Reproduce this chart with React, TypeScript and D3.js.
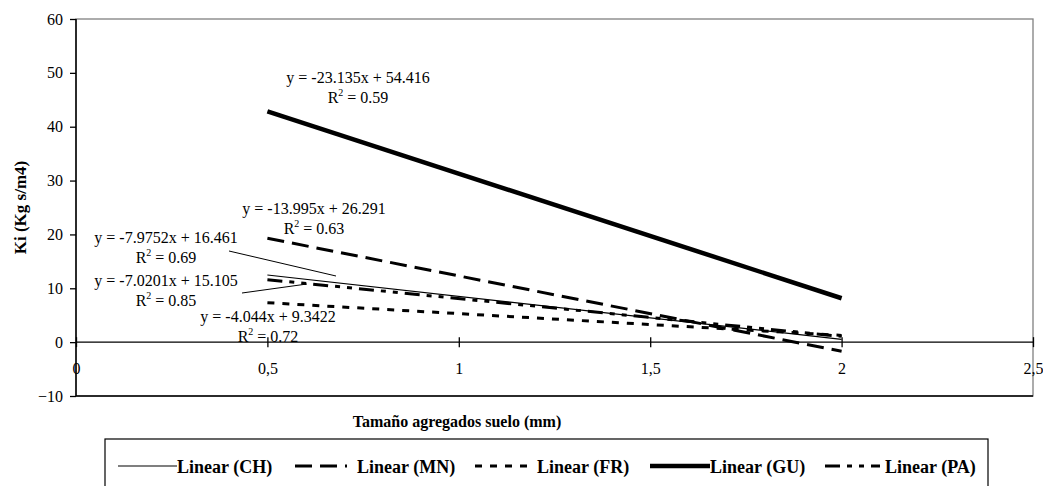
import React, { useEffect, useRef } from "react";
import * as d3 from "d3";

// trendlines, values at x = 0.5 and x = 2 (from the fitted equations)
const seriesNames = ["CH", "MN", "FR", "GU", "PA"];
const xEnds = [0.5, 2];
const chEnds = [12.47, 0.51];
const mnEnds = [19.29, -1.7];
const frEnds = [7.32, 1.25];
const guEnds = [42.85, 8.15];
const paEnds = [11.6, 1.07];
const equations = [
  "y = -7.9752x + 16.461",
  "y = -13.995x + 26.291",
  "y = -4.044x + 9.3422",
  "y = -23.135x + 54.416",
  "y = -7.0201x + 15.105",
];
const r2Values = ["0.69", "0.63", "0.72", "0.59", "0.85"];
const xTicks = [0, 0.5, 1, 1.5, 2, 2.5];
const yTicks = [-10, 0, 10, 20, 30, 40, 50, 60];

const FONT = '"Liberation Serif", "Times New Roman", Tinos, "DejaVu Serif", serif';

const App = () => {
  const chartRef = useRef<SVGSVGElement>(null);

  useEffect(() => {
    drawChart();
  }, []);

  const drawChart = () => {
    const width = 1043;
    const height = 486;
    const left = 76, right = 1033, top = 19, bottom = 396;

    const svg = d3.select(chartRef.current)
      .attr("width", width)
      .attr("height", height)
      .style("font-family", FONT);
    svg.selectAll("*").remove();

    const x = d3.scaleLinear().domain([0, 2.5]).range([left, right]);
    const y = d3.scaleLinear().domain([-10, 60]).range([bottom, top]);

    // plot area border
    svg.append("rect")
      .attr("x", left).attr("y", top)
      .attr("width", right - left).attr("height", bottom - top)
      .attr("fill", "white").attr("stroke", "#808080").attr("stroke-width", 1.3);
    svg.append("line")
      .attr("x1", left).attr("x2", right).attr("y1", bottom).attr("y2", bottom)
      .attr("stroke", "black").attr("stroke-width", 1.3);

    // y axis
    const yAxis = svg.append("g").attr("transform", `translate(${left},0)`)
      .call(d3.axisLeft(y).tickValues(yTicks).tickSize(6).tickPadding(7).tickFormat(d3.format("d")));
    yAxis.select(".domain").attr("stroke", "black").attr("stroke-width", 1.5).attr("d", `M0,${top}V${bottom}`);
    yAxis.selectAll(".tick line").attr("stroke-width", 1.3);
    yAxis.selectAll("text").style("font-family", FONT).attr("font-size", 16).attr("fill", "black");

    // x axis at y = 0 with crossing ticks
    const xAxis = svg.append("g").attr("transform", `translate(0,${y(0)})`)
      .call(d3.axisBottom(x).tickValues(xTicks).tickSize(5).tickPadding(15)
        .tickFormat((d) => String(d).replace(".", ",")));
    xAxis.select(".domain").attr("stroke-width", 1.3).attr("d", `M${left},0H${right}`);
    xAxis.selectAll(".tick line").attr("y1", -5).attr("stroke-width", 1.3);
    xAxis.selectAll("text").style("font-family", FONT).attr("font-size", 16).attr("fill", "black");

    // trendlines
    const styles = [
      { w: 1.2, dash: null },
      { w: 3, dash: "17,8" },
      { w: 3, dash: "7,8" },
      { w: 4.5, dash: null },
      { w: 3, dash: "15,7,5,7,5,7" },
    ];
    const ends = [chEnds, mnEnds, frEnds, guEnds, paEnds];
    const line = d3.line<[number, number]>().x((d) => x(d[0])).y((d) => y(d[1]));
    ends.forEach((e, i) => {
      svg.append("path")
        .datum(xEnds.map((xv, j) => [xv, e[j]] as [number, number]))
        .attr("d", line)
        .attr("fill", "none").attr("stroke", "black")
        .attr("stroke-width", styles[i].w)
        .attr("stroke-dasharray", styles[i].dash);
    });

    // equation labels (pixel positions, centred)
    const labelPos = [
      { cx: 166, cy: 237 },
      { cx: 314, cy: 208 },
      { cx: 268, cy: 316 },
      { cx: 358, cy: 77 },
      { cx: 166, cy: 280 },
    ];
    labelPos.forEach((p, i) => {
      svg.append("text")
        .attr("x", p.cx).attr("y", p.cy)
        .attr("text-anchor", "middle").attr("dominant-baseline", "central")
        .attr("font-size", 16)
        .text(equations[i]);
      const t = svg.append("text")
        .attr("x", p.cx).attr("y", p.cy + 20)
        .attr("text-anchor", "middle").attr("dominant-baseline", "central")
        .attr("font-size", 16);
      t.append("tspan").text("R");
      t.append("tspan").attr("font-size", 10).attr("dy", -5).text("2");
      t.append("tspan").attr("dy", 5).text(" = " + r2Values[i]);
    });

    // leader lines
    svg.append("line").attr("x1", 229).attr("y1", 251).attr("x2", 336).attr("y2", 276)
      .attr("stroke", "black").attr("stroke-width", 1);
    svg.append("line").attr("x1", 242).attr("y1", 293).attr("x2", 307).attr("y2", 284)
      .attr("stroke", "black").attr("stroke-width", 1);

    // axis titles
    svg.append("text")
      .attr("x", 457).attr("y", 421)
      .attr("text-anchor", "middle").attr("dominant-baseline", "central")
      .attr("font-size", 16).attr("font-weight", "bold")
      .text("Tamaño agregados suelo (mm)");
    svg.append("text")
      .attr("transform", `translate(20,${(top + bottom) / 2}) rotate(-90)`)
      .attr("text-anchor", "middle").attr("dominant-baseline", "central")
      .attr("font-size", 17).attr("font-weight", "bold")
      .text("Ki (Kg s/m4)");

    // legend
    svg.append("rect")
      .attr("x", 105).attr("y", 439).attr("width", 883).attr("height", 60)
      .attr("fill", "white").attr("stroke", "black").attr("stroke-width", 1.2);
    const legendPos = [
      { x0: 118, x1: 177, tx: 177 },
      { x0: 295, x1: 347, tx: 357 },
      { x0: 475, x1: 532, tx: 537 },
      { x0: 650, x1: 710, tx: 710 },
      { x0: 825, x1: 880, tx: 885 },
    ];
    seriesNames.forEach((name, i) => {
      const p = legendPos[i];
      svg.append("line")
        .attr("x1", p.x0).attr("x2", p.x1).attr("y1", 466).attr("y2", 466)
        .attr("stroke", "black").attr("stroke-width", styles[i].w)
        .attr("stroke-dasharray", styles[i].dash);
      svg.append("text")
        .attr("x", p.tx).attr("y", 467)
        .attr("dominant-baseline", "central")
        .attr("font-size", 18).attr("font-weight", "bold")
        .text(`Linear (${name})`);
    });
  };

  return (
    <div style={{ position: "fixed", left: 0, top: 0, background: "white" }}>
      <svg ref={chartRef} style={{ display: "block" }}></svg>
    </div>
  );
};

export default App;
